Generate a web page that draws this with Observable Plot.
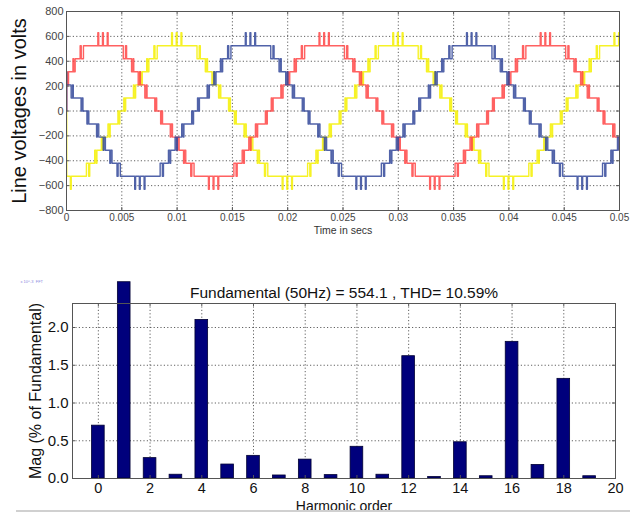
<!DOCTYPE html>
<html><head><meta charset="utf-8">
<script src="https://cdn.jsdelivr.net/npm/d3@7"></script>
<script src="https://cdn.jsdelivr.net/npm/@observablehq/plot@0.6"></script>
<style>
body{margin:0;background:#fff;}
#wrap{position:relative;width:630px;height:515px;overflow:hidden;font-family:"Liberation Sans",Arial,sans-serif;background:#fff;}
#top{position:absolute;left:0;top:0;}
#bot{position:absolute;left:0;top:240px;}
#rule{position:absolute;left:16px;top:510px;width:614px;height:2px;background:#d0d0d0;}
</style></head><body>
<div id="wrap"><div id="top"></div><div id="bot"></div><div id="rule"></div></div>
<script>
// ---------- top panel: line voltages ----------
const timeTicks = [0, 0.005, 0.01, 0.015, 0.02, 0.025, 0.03, 0.035, 0.04, 0.045, 0.05];
const timeTickLabels = ["0", "0.005", "0.01", "0.015", "0.02", "0.025", "0.03", "0.035", "0.04", "0.045", "0.05"];
const voltTicks = [-800, -600, -400, -200, 0, 200, 400, 600, 800];
// voltage of each step level (index = level + 6)
const levelVolts = [-630, -525, -420, -315, -210, -105, 0, 105, 210, 315, 420, 525, 630];
// one 20 ms cycle of the stepped line voltage:
// [ms after the rising zero crossing, step level]
const cycleEvents = [
  [0.00, 0], [0.18, 1], [0.25, 0], [0.35, 1],
  [1.05, 2], [1.12, 1], [1.25, 2],
  [1.65, 3], [1.72, 2], [1.85, 3],
  [2.25, 4], [2.32, 3], [2.45, 4],
  [2.90, 5], [3.00, 4], [3.20, 5],
  [4.50, 6], [4.58, 5], [4.92, 6], [5.00, 5], [5.35, 6], [5.43, 5],
  [6.80, 4], [7.00, 5], [7.10, 4],
  [7.55, 3], [7.68, 4], [7.75, 3],
  [8.15, 2], [8.28, 3], [8.35, 2],
  [8.75, 1], [8.88, 2], [8.95, 1],
  [9.65, 0], [9.75, 1], [9.82, 0],
  [10.18, -1], [10.25, 0], [10.35, -1],
  [11.05, -2], [11.12, -1], [11.25, -2],
  [11.65, -3], [11.72, -2], [11.85, -3],
  [12.25, -4], [12.32, -3], [12.45, -4],
  [12.90, -5], [13.00, -4], [13.20, -5],
  [14.50, -6], [14.58, -5], [14.92, -6], [15.00, -5], [15.35, -6], [15.43, -5],
  [16.80, -4], [17.00, -5], [17.10, -4],
  [17.55, -3], [17.68, -4], [17.75, -3],
  [18.15, -2], [18.28, -3], [18.35, -2],
  [18.75, -1], [18.88, -2], [18.95, -1],
  [19.65, 0], [19.75, -1], [19.82, 0]
];
const phaseNames = ["yellow", "red", "blue"];
const phaseColors = ["#f4f000", "#ff4545", "#33489a"];
const phaseZeroCrossing = [5.0, -1.667, 11.667]; // ms, rising zero crossing
const cycleLengthMs = 20;

function phasePoints(p) {
  const pts = [{t: 0, v: 0}];
  const raw = [];
  for (let k = -2; k <= 3; k++) {
    for (const [tau, lvl] of cycleEvents) {
      const tms = phaseZeroCrossing[p] + k * cycleLengthMs + tau;
      raw.push({tms, v: levelVolts[lvl + 6]});
    }
  }
  raw.sort((a, b) => a.tms - b.tms);
  let last = null;
  for (const r of raw) {
    if (r.tms <= 0) { last = r; continue; }
    if (last) { pts.push({t: 0.00002, v: last.v}); last = null; }
    if (r.tms <= 51) pts.push({t: r.tms / 1000, v: r.v});
  }
  return pts;
}

const topW = 630, topH = 240, tML = 66, tMR = 11, tMT = 11, tMB = 30;
const tFW = topW - tML - tMR, tFH = topH - tMT - tMB;
const grid = {stroke: "#3a3a3a", strokeWidth: 0.8, strokeDasharray: "1.2,2.2"};

const topMarks = [
  Plot.ruleX(timeTicks.slice(1, -1), {x: d => d, ...grid}),
  Plot.ruleY(voltTicks.slice(1, -1), {y: d => d, ...grid})
];
for (let p = 0; p < 3; p++) {
  topMarks.push(Plot.line(phasePoints(p), {x: "t", y: "v", curve: "step-after", stroke: phaseColors[p], strokeWidth: 1.4, strokeOpacity: 0.85, clip: true}));
}
topMarks.push(
  Plot.frame({stroke: "#555", strokeWidth: 1}),
  Plot.tickX(timeTicks, {x: d => d, insetTop: tFH - 3, stroke: "#555"}),
  Plot.tickX(timeTicks, {x: d => d, insetBottom: tFH - 3, stroke: "#555"}),
  Plot.tickY(voltTicks, {y: d => d, insetRight: tFW - 3, stroke: "#555"}),
  Plot.tickY(voltTicks, {y: d => d, insetLeft: tFW - 3, stroke: "#555"}),
  Plot.axisY({ticks: voltTicks, tickSize: 0, tickPadding: 3, fontSize: 11, label: null}),
  Plot.axisX({ticks: timeTicks, tickFormat: d => timeTickLabels[timeTicks.indexOf(d)], tickSize: 0, tickPadding: 3, fontSize: 10, label: null}),
  Plot.text(["Line voltages in volts"], {frameAnchor: "left", dx: -47, rotate: -90, textAnchor: "middle", lineAnchor: "middle", fontSize: 20, fill: "#111"}),
  Plot.text(["Time in secs"], {frameAnchor: "bottom", dy: 20, textAnchor: "middle", lineAnchor: "middle", fontSize: 10.5, fill: "#333"})
);

const topChart = Plot.plot({
  width: topW, height: topH,
  marginLeft: tML, marginRight: tMR, marginTop: tMT, marginBottom: tMB,
  x: {domain: [0, 0.05]},
  y: {domain: [-800, 800]},
  style: {fontFamily: "'Liberation Sans', Arial, sans-serif", color: "#444", background: "#fff", overflow: "visible"},
  marks: topMarks
});
document.getElementById("top").append(topChart);

// ---------- bottom panel: harmonic spectrum ----------
const harmonicOrder = [0, 1, 2, 3, 4, 5, 6, 7, 8, 9, 10, 11, 12, 13, 14, 15, 16, 17, 18, 19];
const harmonicMag = [0.70, 2.60, 0.27, 0.05, 2.10, 0.185, 0.30, 0.04, 0.25, 0.045, 0.42, 0.05, 1.62, 0.02, 0.48, 0.03, 1.81, 0.18, 1.32, 0.03];
const orderTicks = [0, 2, 4, 6, 8, 10, 12, 14, 16, 18, 20];
const magTicks = [0, 0.5, 1, 1.5, 2];
const spectrumTitle = "Fundamental (50Hz) = 554.1 , THD= 10.59%";
const bars = harmonicOrder.map((h, i) => ({h, mag: harmonicMag[i]}));

const botW = 630, botH = 275, bML = 72, bMR = 15, bMT = 63, bMB = 37;
const bFW = botW - bML - bMR, bFH = botH - bMT - bMB;
const barHalf = 0.245;

const botChart = Plot.plot({
  width: botW, height: botH,
  marginLeft: bML, marginRight: bMR, marginTop: bMT, marginBottom: bMB,
  x: {domain: [-1, 20]},
  y: {domain: [0, 2.318]},
  style: {fontFamily: "'Liberation Sans', Arial, sans-serif", color: "#111", background: "transparent"},
  marks: [
    Plot.ruleX(orderTicks.slice(0, -1), {x: d => d, ...grid}),
    Plot.ruleY(magTicks.slice(1), {y: d => d, ...grid}),
    Plot.rectY(bars, {x1: d => d.h - barHalf, x2: d => d.h + barHalf, y: "mag", fill: "#00007c", stroke: "#000033", strokeWidth: 0.8}),
    Plot.frame({stroke: "#555", strokeWidth: 1}),
    Plot.tickX(orderTicks, {x: d => d, insetTop: bFH - 3, stroke: "#555"}),
    Plot.tickX(orderTicks, {x: d => d, insetBottom: bFH - 3, stroke: "#555"}),
    Plot.tickY(magTicks, {y: d => d, insetRight: bFW - 3, stroke: "#555"}),
    Plot.tickY(magTicks, {y: d => d, insetLeft: bFW - 3, stroke: "#555"}),
    Plot.axisY({ticks: magTicks, tickSize: 0, tickPadding: 4, fontSize: 15, label: null}),
    Plot.axisX({ticks: orderTicks, tickSize: 0, tickPadding: 4, fontSize: 14.5, label: null}),
    Plot.text([spectrumTitle], {frameAnchor: "top", dy: -10, textAnchor: "middle", lineAnchor: "middle", fontSize: 15.5, fill: "#111"}),
    Plot.text(["Mag (% of Fundamental)"], {frameAnchor: "left", dx: -37, rotate: -90, textAnchor: "middle", lineAnchor: "middle", fontSize: 16, fill: "#111"}),
    Plot.text(["Harmonic order"], {frameAnchor: "bottom", dy: 28, textAnchor: "middle", lineAnchor: "middle", fontSize: 14, fill: "#111"}),
    Plot.text(["x 10^-3  FFT"], {frameAnchor: "top-left", dx: -52, dy: -22, fontSize: 4, fill: "#8a8ae0", textAnchor: "start", lineAnchor: "middle"})
  ]
});
document.getElementById("bot").append(botChart);
</script>
</body></html>
